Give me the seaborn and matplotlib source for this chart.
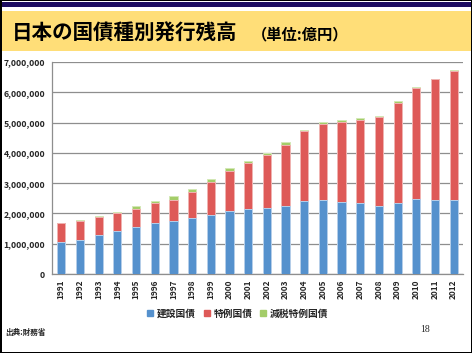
import numpy as np
import pandas as pd
import matplotlib
matplotlib.use("Agg")
import matplotlib.pyplot as plt
import seaborn as sns
from matplotlib.patches import Rectangle
from matplotlib.ticker import FuncFormatter

# Data (億円)
years = [str(y) for y in range(1991, 2013)]
kensetsu = [1050000, 1120000, 1290000, 1410000, 1540000, 1670000, 1740000, 1850000,
            1950000, 2070000, 2140000, 2190000, 2230000, 2400000, 2440000, 2390000,
            2340000, 2230000, 2340000, 2470000, 2440000, 2440000]
tokurei = [630000, 640000, 600000, 600000, 610000, 670000, 710000, 870000,
           1090000, 1330000, 1520000, 1750000, 2040000, 2310000, 2520000, 2640000,
           2760000, 2950000, 3320000, 3680000, 3990000, 4250000]
genzei = [0, 30000, 20000, 40000, 90000, 80000, 120000, 90000,
          100000, 100000, 80000, 60000, 90000, 40000, 60000, 40000,
          50000, 40000, 50000, 20000, 20000, 40000]
series_names = ["建設国債", "特例国債", "減税特例国債"]
colors = ["#5591cd", "#de5a58", "#a4cd69"]
edge_colors = ["#b5cfea", "#f0b3b2", "#d3e8b6"]

df = pd.DataFrame({"year": years, "kensetsu": kensetsu, "tokurei": tokurei, "genzei": genzei})
df["lvl1"] = df["kensetsu"]
df["lvl2"] = df["kensetsu"] + df["tokurei"]
df["lvl3"] = df["lvl2"] + df["genzei"]

sns.set_theme(style="white")
plt.rcParams["font.family"] = ["Noto Sans CJK JP", "DejaVu Sans"]

fig = plt.figure(figsize=(4.72, 3.53), dpi=100)
W, H = 472, 353

def box(x0, y0, x1, y1, color):
    # pixel coords, y from top
    fig.patches.append(Rectangle((x0 / W, 1 - y1 / H), (x1 - x0) / W, (y1 - y0) / H,
                                 transform=fig.transFigure, color=color, zorder=-5, lw=0))

# slide frame and header band
box(0, 0, W, H, "black")
box(2, 1, 470.5, 351.5, "white")
box(2, 1.5, 470.5, 7, "#1c0c62")
box(2, 10.5, 470.5, 50.5, "#ffde78")

fig.text(12 / W, 1 - 33.5 / H, "日本の国債種別発行残高", fontsize=14.8, fontweight="bold",
         va="center", ha="left", color="black")
fig.text(252 / W, 1 - 34 / H, "（単位:億円）", fontsize=11, fontweight="bold",
         va="center", ha="left", color="black")

ax = fig.add_axes([52 / W, 1 - 274 / H, (463 - 52) / W, (274 - 62) / H])
ax.set_facecolor("white")

for lvl, c, ec, z in zip(["lvl3", "lvl2", "lvl1"], colors[::-1], edge_colors[::-1], [2, 3, 4]):
    sns.barplot(data=df, x="year", y=lvl, color=c, width=0.44, ax=ax,
                edgecolor=ec, linewidth=0.7, saturation=1, zorder=z)

ax.set_ylim(0, 7000000)
ax.set_xlim(-0.5, len(years) - 0.5)
ax.set_yticks(np.arange(0, 7000001, 1000000))
ax.yaxis.set_major_formatter(FuncFormatter(lambda v, p: f"{int(v):,}"))
ax.grid(axis="y", color="#8e8e8e", lw=0.9)
ax.set_axisbelow(True)
ax.set_xlabel("")
ax.set_ylabel("")
for s in ["top", "right"]:
    ax.spines[s].set_visible(False)
for s in ["left", "bottom"]:
    ax.spines[s].set_color("#8e8e8e")
    ax.spines[s].set_linewidth(0.9)

ax.tick_params(axis="y", labelsize=6.3, length=3, width=0.8, color="#8e8e8e", pad=2)
ax.tick_params(axis="x", which="major", labelsize=6, length=0, pad=4, rotation=90)
ax.set_xticks(np.arange(-0.5, len(years), 1), minor=True)
ax.tick_params(axis="x", which="minor", length=3, width=0.8, color="#8e8e8e")
for lab in ax.get_yticklabels() + ax.get_xticklabels():
    lab.set_fontweight("bold")

handles = [Rectangle((0, 0), 1, 1, color=c) for c in colors]
fig.legend(handles, series_names, loc="center", bbox_to_anchor=(238 / W, 1 - 313.5 / H),
           ncol=3, frameon=False, prop={"size": 7, "weight": "bold"},
           handlelength=0.6, handleheight=0.6, handletextpad=0.4, columnspacing=0.8)

fig.text(5 / W, 1 - 332 / H, "出典:財務省", fontsize=5.5, fontweight="bold", va="center", ha="left")
fig.text(420 / W, 1 - 330 / H, "18", fontsize=7, family="Liberation Serif", va="center", ha="left")

fig.savefig("out.png", dpi=100)
